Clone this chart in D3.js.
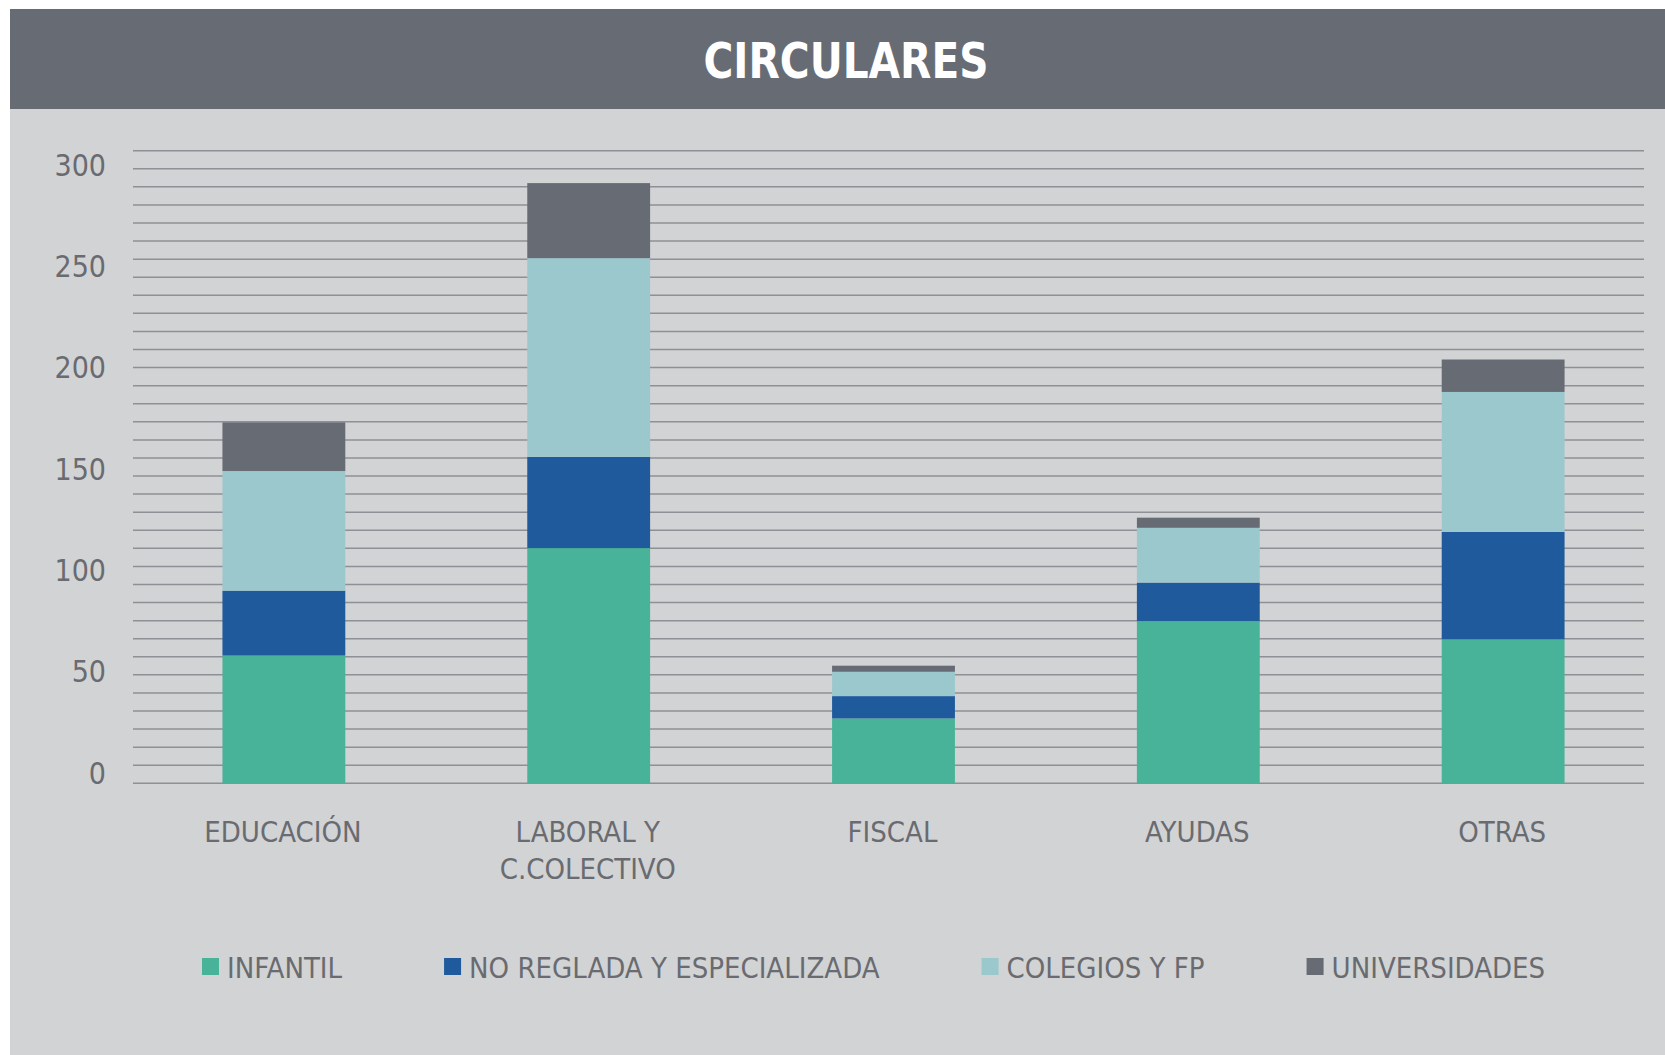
<!DOCTYPE html>
<html lang="es">
<head>
<meta charset="UTF-8">
<title>Circulares</title>
<script src="https://d3js.org/d3.v7.min.js"></script>
<style>
  body { margin: 0; background: #ffffff; }
  svg text { font-family: "DejaVu Sans Condensed", "Liberation Sans Narrow", "Roboto", sans-serif; }
</style>
</head>
<body>
<svg id="chart" width="1665" height="1055"></svg>
<script>
// data
var categories = ["EDUCACIÓN", "LABORAL Y\nC.COLECTIVO", "FISCAL", "AYUDAS", "OTRAS"];
var seriesNames = ["INFANTIL", "NO REGLADA Y ESPECIALIZADA", "COLEGIOS Y FP", "UNIVERSIDADES"];
var infantil      = [63, 116, 32, 80, 71];
var noReglada     = [32, 45, 11, 19, 53];
var colegios      = [59, 98, 12, 27, 69];
var universidades = [24, 37, 3, 5, 16];
var yTicks = [0, 50, 100, 150, 200, 250, 300];
var colors = ["#48b399", "#1f5a9d", "#9bc8cd", "#676b74"];

var svg = d3.select("#chart"),
  width = +svg.attr("width"),
  height = +svg.attr("height");

var textColor = "#696b70";

// background panel and title band
svg.append("rect").attr("x", 10).attr("y", 9).attr("width", width - 10).attr("height", height - 9).attr("fill", "#d2d3d5");
svg.append("rect").attr("x", 10).attr("y", 9).attr("width", width - 10).attr("height", 100).attr("fill", "#676b74");
svg.append("text")
  .attr("x", 846).attr("y", 78)
  .attr("text-anchor", "middle")
  .attr("fill", "#ffffff")
  .attr("font-size", 50)
  .attr("font-weight", "bold")
  .attr("textLength", 285)
  .attr("lengthAdjust", "spacingAndGlyphs")
  .text("CIRCULARES");

// build rows for the stack
var rows = categories.map(function(c, i) {
  var r = { cat: c };
  r[seriesNames[0]] = infantil[i];
  r[seriesNames[1]] = noReglada[i];
  r[seriesNames[2]] = colegios[i];
  r[seriesNames[3]] = universidades[i];
  return r;
});
var stacked = d3.stack().keys(seriesNames)(rows);

var x = d3.scaleBand()
  .domain(categories)
  .range([131, 1656])
  .paddingInner(0.597)
  .paddingOuter(0.3);

var y = d3.scaleLinear()
  .domain([0, 300])
  .range([783.3, 175]);

// decorative thin rules behind the bars
var grid = d3.scaleLinear().domain([0, 35]).range([783.3, 150.7]);
svg.append("g")
  .selectAll("line")
  .data(d3.range(36))
  .enter()
  .append("line")
    .attr("x1", 133).attr("x2", 1644)
    .attr("y1", function(d) { return grid(d); })
    .attr("y2", function(d) { return grid(d); })
    .attr("stroke", "#8e9095")
    .attr("stroke-width", 1.5);

// y axis labels (baseline sits on the value)
var yAxis = d3.axisLeft(y).tickValues(yTicks).tickSize(0).tickPadding(0);
var gy = svg.append("g").attr("transform", "translate(106,0)").call(yAxis);
gy.select(".domain").remove();
gy.selectAll("text")
  .attr("dy", 0)
  .attr("fill", textColor)
  .attr("font-size", 30)
  .style("font-family", null);

// bars
svg.append("g")
  .selectAll("g")
  .data(stacked)
  .enter()
  .append("g")
    .attr("fill", function(d, i) { return colors[i]; })
  .selectAll("rect")
  .data(function(d) { return d; })
  .enter()
  .append("rect")
    .attr("x", function(d) { return x(d.data.cat); })
    .attr("y", function(d) { return y(d[1]); })
    .attr("height", function(d) { return y(d[0]) - y(d[1]); })
    .attr("width", x.bandwidth());

// category labels
var xAxis = d3.axisBottom(x).tickSize(0).tickPadding(0).tickFormat(function() { return ""; });
var gx = svg.append("g").attr("transform", "translate(-1,842)").call(xAxis);
gx.select(".domain").remove();
gx.selectAll(".tick text").each(function(d) {
  var t = d3.select(this)
    .attr("y", 0).attr("dy", 0)
    .attr("fill", textColor)
    .attr("font-size", 29)
    .style("font-family", null);
  d.split("\n").forEach(function(line, k) {
    t.append("tspan").attr("x", 0).attr("y", k * 37.3).text(line);
  });
});

// legend, laid out left to right
var legend = svg.append("g");
var lx = 202;
seriesNames.forEach(function(name, i) {
  legend.append("rect")
    .attr("x", lx).attr("y", 958)
    .attr("width", 17).attr("height", 17)
    .attr("fill", colors[i]);
  var t = legend.append("text")
    .attr("x", lx + 25).attr("y", 978)
    .attr("fill", textColor)
    .attr("font-size", 29)
    .text(name);
  lx = lx + 25 + t.node().getComputedTextLength() + 102;
});
</script>
</body>
</html>
